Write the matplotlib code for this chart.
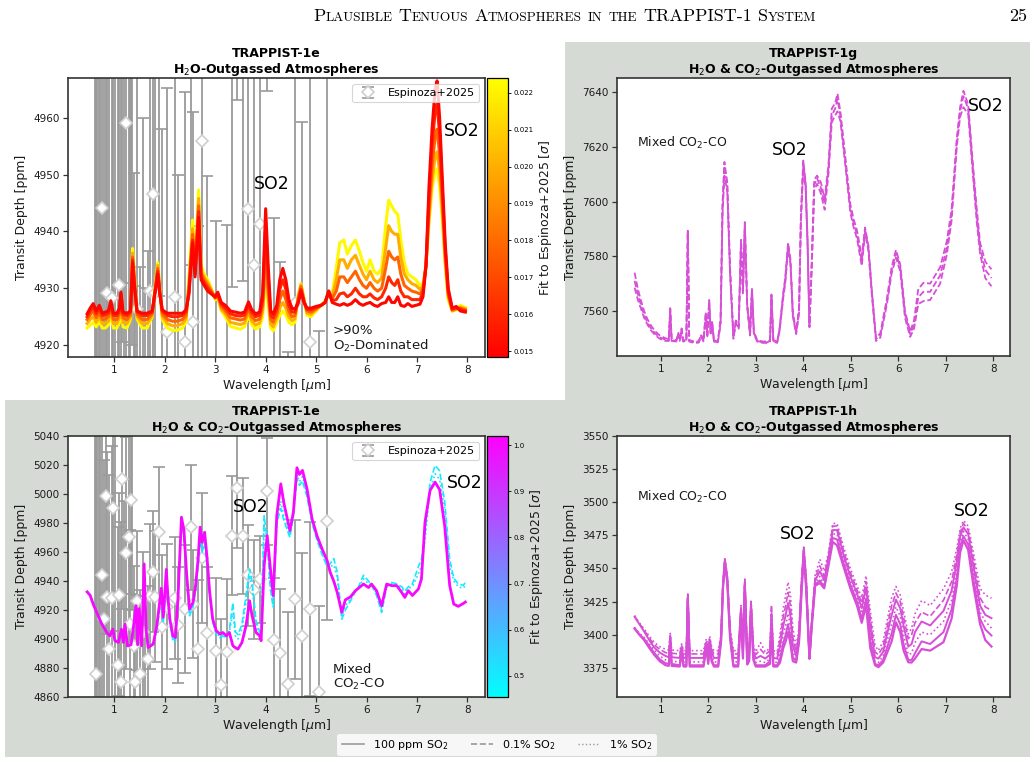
import matplotlib
matplotlib.use("Agg")
import matplotlib.pyplot as plt
import matplotlib.colors as mcolors
from matplotlib.cm import ScalarMappable
from matplotlib.lines import Line2D
from matplotlib.patches import Rectangle
from matplotlib.text import Annotation
from matplotlib.ticker import FormatStrFormatter

# ---------------- Espinoza+2025 observed spectrum (both TRAPPIST-1e panels) ----------------
obs_wl = [0.61, 0.63, 0.66, 0.69, 0.72, 0.75, 0.80, 0.84, 0.86, 0.90,
          0.95, 0.97, 1.02, 1.07, 1.10, 1.13, 1.16, 1.20, 1.24, 1.28,
          1.30, 1.32, 1.35, 1.39, 1.41, 1.45, 1.51, 1.57, 1.61, 1.66,
          1.70, 1.76, 1.80, 1.88, 1.95, 2.05, 2.20, 2.27, 2.40, 2.51,
          2.56, 2.66, 2.74, 2.84, 3.02, 3.12, 3.23, 3.33, 3.43, 3.55,
          3.64, 3.77, 3.88, 4.02, 4.16, 4.28, 4.44, 4.58, 4.73, 4.88,
          5.05, 5.22]
obs_depth = [5080, 4875.7, 4850, 5065, 4835, 4944.2, 4913.7, 4998.3, 4929.1, 4893,
             4928.3, 4990.2, 5070, 4881.9, 4930.5, 4870.4, 5010.5, 4845, 4959, 4970.2,
             4910.3, 4996, 5060, 4895.3, 4870.4, 4926.4, 4875.7, 4905, 4850, 4886.5,
             4929.5, 4946.5, 4929.2, 4973.6, 4908, 4922.3, 4928.4, 4910, 4920.5, 4977.1,
             4924.1, 4893, 4956, 4903.8, 4891.8, 4868.1, 4891.2, 4971.3, 5004.1, 4971.3,
             4943.9, 4934.1, 4941.3, 5001.8, 4899.4, 4890.2, 4868.8, 4927.4, 4902.2, 4920.6,
             4863.5, 4981.7]
obs_err = [230, 170, 200, 220, 215, 130, 110, 95, 100, 120,
           105, 85, 220, 95, 70, 110, 90, 150, 80, 75,
           65, 65, 140, 55, 60, 48, 58, 55, 80, 50,
           50, 42, 45, 45, 50, 43, 42, 40, 44, 43,
           37, 48, 45, 46, 50, 46, 50, 41, 41, 40,
           35, 34, 30, 37, 43, 44.5, 50, 55, 57, 60,
           59, 68.7]

# ---------------- TRAPPIST-1e, H2O-outgassed (O2-dominated) models ----------------
e1_wl = [0.46, 0.52, 0.58, 0.64, 0.70, 0.76, 0.82, 0.88, 0.93, 0.98,
         1.05, 1.10, 1.13, 1.17, 1.25, 1.32, 1.36, 1.40, 1.45, 1.55,
         1.65, 1.75, 1.82, 1.86, 1.90, 1.95, 2.05, 2.15, 2.25, 2.35,
         2.42, 2.48, 2.55, 2.60, 2.67, 2.72, 2.78, 2.85, 2.92, 3.00,
         3.05, 3.12, 3.20, 3.30, 3.40, 3.50, 3.58, 3.66, 3.72, 3.80,
         3.88, 3.94, 4.00, 4.05, 4.10, 4.15, 4.22, 4.28, 4.34, 4.40,
         4.46, 4.52, 4.58, 4.65, 4.70, 4.76, 4.82, 4.90, 5.00, 5.10,
         5.18, 5.25, 5.32, 5.40, 5.47, 5.55, 5.62, 5.70, 5.78, 5.86,
         5.93, 6.00, 6.07, 6.15, 6.22, 6.30, 6.38, 6.44, 6.50, 6.56,
         6.62, 6.68, 6.75, 6.82, 6.90, 6.98, 7.06, 7.12, 7.18, 7.24,
         7.30, 7.36, 7.40, 7.45, 7.50, 7.56, 7.62, 7.70, 7.78, 7.86,
         7.96]
e1_fit = [0.0222, 0.0200, 0.0178, 0.0160, 0.0150]   # yellow ... red
e1_yellow = [4923.0, 4923.5, 4924.0, 4923.2, 4924.2, 4923.0, 4923.0, 4923.5, 4925.5, 4923.0,
             4923.0, 4924.0, 4927.5, 4923.2, 4923.0, 4924.6, 4937.0, 4932.0, 4924.6, 4923.0,
             4923.0, 4925.0, 4931.5, 4934.5, 4930.0, 4924.5, 4923.0, 4922.6, 4922.6, 4923.0,
             4924.0, 4932.0, 4942.0, 4934.0, 4947.3, 4934.0, 4932.5, 4931.5, 4930.0, 4928.0,
             4928.2, 4926.0, 4925.0, 4923.3, 4923.0, 4922.8, 4923.2, 4925.3, 4923.6, 4922.8,
             4923.2, 4925.0, 4932.0, 4927.0, 4923.0, 4922.5, 4924.0, 4925.2, 4926.0, 4925.3,
             4924.0, 4923.6, 4924.0, 4929.0, 4930.8, 4928.2, 4925.2, 4925.0, 4926.0, 4927.0,
             4927.8, 4928.7, 4929.0, 4933.5, 4938.0, 4938.5, 4936.0, 4937.5, 4938.5, 4936.5,
             4934.5, 4933.0, 4935.0, 4933.0, 4932.5, 4933.5, 4941.0, 4945.5, 4944.5, 4943.5,
             4943.0, 4938.5, 4934.5, 4932.5, 4932.0, 4931.5, 4930.5, 4930.8, 4934.0, 4941.5,
             4947.5, 4950.5, 4951.0, 4948.0, 4942.5, 4934.0, 4928.0, 4926.0, 4926.2, 4927.0,
             4926.6]
e1_amber = [4923.8, 4924.5, 4925.0, 4924.0, 4925.0, 4923.8, 4923.8, 4924.2, 4926.2, 4923.8,
            4923.8, 4924.8, 4928.0, 4924.0, 4923.8, 4925.0, 4936.2, 4931.5, 4925.0, 4923.8,
            4923.8, 4925.2, 4931.0, 4934.0, 4929.8, 4925.0, 4923.8, 4923.4, 4923.4, 4923.8,
            4924.6, 4931.0, 4940.5, 4933.5, 4945.8, 4933.0, 4932.0, 4931.0, 4929.8, 4928.2,
            4928.5, 4926.3, 4925.5, 4924.0, 4923.8, 4923.6, 4923.9, 4925.9, 4924.3, 4923.5,
            4923.9, 4926.0, 4934.0, 4928.5, 4923.7, 4923.2, 4924.8, 4926.5, 4927.5, 4926.5,
            4925.0, 4924.3, 4924.6, 4928.8, 4930.6, 4928.0, 4925.6, 4925.4, 4926.2, 4927.0,
            4927.6, 4929.0, 4928.6, 4931.5, 4935.0, 4935.0, 4933.5, 4935.0, 4935.8, 4934.0,
            4932.5, 4931.5, 4933.0, 4931.5, 4931.0, 4931.8, 4937.0, 4941.0, 4940.0, 4939.5,
            4939.5, 4935.5, 4932.5, 4931.5, 4930.8, 4930.5, 4929.8, 4930.3, 4934.0, 4942.5,
            4949.0, 4953.0, 4954.0, 4950.5, 4944.0, 4935.0, 4928.5, 4926.0, 4926.3, 4926.7,
            4926.4]
e1_orange = [4924.5, 4925.3, 4926.0, 4924.8, 4925.8, 4924.5, 4924.6, 4925.0, 4926.8, 4924.5,
             4924.5, 4925.5, 4928.5, 4924.8, 4924.5, 4925.4, 4935.5, 4931.0, 4925.4, 4924.5,
             4924.5, 4925.5, 4930.5, 4933.5, 4929.5, 4925.5, 4924.5, 4924.2, 4924.2, 4924.5,
             4925.2, 4930.0, 4939.5, 4933.0, 4944.5, 4932.5, 4931.5, 4930.5, 4929.5, 4928.3,
             4928.8, 4926.8, 4926.0, 4924.8, 4924.6, 4924.4, 4924.6, 4926.5, 4925.0, 4924.3,
             4924.6, 4927.0, 4937.0, 4930.0, 4924.5, 4924.0, 4925.5, 4928.0, 4929.5, 4928.0,
             4926.0, 4925.0, 4925.2, 4928.3, 4930.3, 4927.8, 4926.0, 4925.8, 4926.4, 4927.0,
             4927.5, 4929.3, 4928.2, 4929.5, 4932.0, 4932.0, 4931.0, 4932.0, 4933.0, 4931.5,
             4930.5, 4930.0, 4931.0, 4930.0, 4929.5, 4930.0, 4933.5, 4936.5, 4935.5, 4935.0,
             4935.5, 4932.5, 4930.5, 4930.0, 4929.5, 4929.3, 4929.0, 4929.8, 4934.0, 4944.0,
             4951.5, 4956.5, 4958.0, 4953.5, 4946.0, 4936.0, 4929.0, 4926.2, 4926.4, 4926.5,
             4926.2]
e1_redorange = [4925.0, 4926.0, 4926.8, 4925.5, 4926.5, 4925.2, 4925.3, 4925.6, 4927.3, 4925.2,
                4925.2, 4926.0, 4929.0, 4925.4, 4925.2, 4925.8, 4935.0, 4930.5, 4925.8, 4925.2,
                4925.2, 4925.8, 4930.2, 4933.0, 4929.2, 4926.0, 4925.2, 4925.0, 4925.0, 4925.2,
                4925.8, 4929.5, 4938.5, 4932.5, 4943.5, 4932.0, 4931.0, 4930.0, 4929.2, 4928.4,
                4929.0, 4927.2, 4926.5, 4925.5, 4925.2, 4925.1, 4925.3, 4927.1, 4925.8, 4925.0,
                4925.3, 4928.0, 4941.0, 4932.0, 4925.2, 4924.8, 4926.3, 4929.8, 4931.5, 4929.8,
                4927.0, 4925.8, 4925.8, 4927.8, 4929.8, 4927.6, 4926.3, 4926.2, 4926.6, 4927.0,
                4927.5, 4929.5, 4927.8, 4928.0, 4929.0, 4929.2, 4928.5, 4929.0, 4930.0, 4929.0,
                4928.5, 4928.5, 4929.0, 4928.3, 4928.0, 4928.5, 4930.0, 4932.0, 4931.0, 4930.5,
                4931.5, 4929.5, 4928.5, 4928.5, 4928.0, 4928.0, 4928.0, 4929.2, 4934.0, 4946.0,
                4955.0, 4961.0, 4962.5, 4957.0, 4948.0, 4937.0, 4929.5, 4926.3, 4926.6, 4926.3,
                4926.0]
e1_red = [4925.5, 4926.5, 4927.3, 4926.0, 4927.0, 4925.6, 4925.8, 4926.0, 4927.8, 4925.6,
          4925.6, 4926.5, 4929.3, 4925.8, 4925.6, 4926.0, 4934.5, 4930.0, 4926.0, 4925.6,
          4925.6, 4926.0, 4930.0, 4932.5, 4929.0, 4926.2, 4925.6, 4925.6, 4925.6, 4925.6,
          4926.2, 4929.0, 4938.0, 4932.0, 4942.5, 4931.5, 4930.5, 4929.5, 4929.0, 4928.5,
          4929.3, 4927.5, 4927.0, 4926.0, 4925.8, 4925.6, 4925.8, 4927.6, 4926.3, 4925.5,
          4925.8, 4929.0, 4944.0, 4934.0, 4926.0, 4925.5, 4927.0, 4931.5, 4933.5, 4931.5,
          4928.0, 4926.5, 4926.3, 4927.5, 4929.5, 4927.5, 4926.5, 4926.5, 4926.8, 4927.0,
          4927.5, 4929.5, 4927.5, 4927.2, 4927.0, 4927.3, 4927.0, 4927.3, 4928.0, 4927.3,
          4927.0, 4927.3, 4927.5, 4927.0, 4926.8, 4927.3, 4927.5, 4928.5, 4927.5, 4927.5,
          4928.5, 4927.0, 4926.8, 4927.3, 4926.8, 4927.0, 4927.2, 4928.5, 4934.0, 4948.0,
          4958.0, 4965.0, 4966.5, 4960.0, 4950.0, 4938.0, 4930.0, 4926.5, 4926.8, 4926.0,
          4925.8]

# ---------------- TRAPPIST-1g, H2O & CO2-outgassed models ----------------
g_wl = [0.45, 0.52, 0.58, 0.65, 0.72, 0.80, 0.88, 0.98, 1.10, 1.17,
        1.20, 1.23, 1.33, 1.37, 1.40, 1.44, 1.47, 1.54, 1.57, 1.60,
        1.70, 1.80, 1.85, 1.90, 1.95, 1.98, 2.02, 2.05, 2.08, 2.12,
        2.20, 2.26, 2.30, 2.34, 2.40, 2.46, 2.53, 2.58, 2.64, 2.69,
        2.73, 2.77, 2.82, 2.88, 2.92, 2.96, 3.03, 3.15, 3.24, 3.30,
        3.33, 3.37, 3.45, 3.50, 3.58, 3.62, 3.68, 3.73, 3.78, 3.85,
        3.91, 3.95, 4.00, 4.05, 4.09, 4.13, 4.18, 4.23, 4.29, 4.37,
        4.45, 4.53, 4.60, 4.67, 4.72, 4.78, 4.88, 4.99, 5.06, 5.13,
        5.23, 5.30, 5.37, 5.44, 5.53, 5.62, 5.76, 5.86, 5.95, 6.04,
        6.14, 6.25, 6.33, 6.42, 6.53, 6.67, 6.88, 7.02, 7.12, 7.23,
        7.30, 7.37, 7.47, 7.58, 7.65, 7.72, 7.83, 7.96]
g_hi = [7574.0, 7568.0, 7564.0, 7560.0, 7557.0, 7554.5, 7552.6, 7551.0, 7550.0, 7549.6,
        7561.0, 7549.6, 7549.3, 7552.0, 7549.4, 7553.6, 7549.3, 7549.3, 7589.5, 7549.3,
        7548.8, 7548.9, 7551.3, 7549.3, 7559.5, 7551.3, 7564.0, 7552.3, 7556.3, 7549.3,
        7548.8, 7557.0, 7599.0, 7614.5, 7607.0, 7575.5, 7550.8, 7556.5, 7554.5, 7586.0,
        7568.0, 7592.5, 7562.5, 7552.0, 7568.5, 7552.5, 7549.3, 7548.8, 7548.8, 7549.3,
        7566.0, 7549.3, 7548.8, 7553.5, 7567.0, 7572.0, 7585.0, 7579.0, 7559.5, 7552.5,
        7561.0, 7595.0, 7615.0, 7607.0, 7586.0, 7555.0, 7579.0, 7608.0, 7609.5, 7607.0,
        7601.0, 7613.5, 7634.0, 7636.0, 7639.5, 7633.0, 7617.0, 7599.0, 7593.5, 7589.5,
        7580.0, 7590.5, 7584.0, 7568.0, 7550.3, 7551.8, 7564.5, 7576.0, 7582.3, 7577.0,
        7560.0, 7552.5, 7556.5, 7568.0, 7570.3, 7570.0, 7576.0, 7585.5, 7597.0, 7623.0,
        7634.5, 7640.5, 7635.5, 7611.5, 7597.5, 7585.0, 7578.0, 7575.2]
g_mid = [7571.0, 7566.0, 7562.4, 7558.5, 7555.8, 7553.5, 7551.8, 7550.3, 7549.5, 7549.3,
         7560.5, 7549.3, 7549.0, 7551.5, 7549.2, 7553.3, 7549.0, 7549.0, 7589.3, 7549.0,
         7548.5, 7548.6, 7551.0, 7549.0, 7559.0, 7551.0, 7563.5, 7552.0, 7556.0, 7549.0,
         7548.5, 7556.0, 7597.6, 7613.0, 7606.0, 7574.5, 7550.3, 7556.0, 7554.0, 7585.5,
         7567.0, 7592.0, 7562.0, 7551.5, 7568.0, 7552.0, 7549.0, 7548.5, 7548.5, 7549.0,
         7565.5, 7549.0, 7548.5, 7553.0, 7566.0, 7571.0, 7584.0, 7578.0, 7558.8, 7552.0,
         7560.0, 7594.0, 7614.3, 7606.0, 7585.0, 7554.5, 7578.0, 7606.0, 7608.5, 7605.0,
         7599.4, 7612.0, 7631.5, 7634.0, 7637.5, 7631.5, 7615.8, 7597.6, 7592.0, 7588.0,
         7578.2, 7589.7, 7583.0, 7567.3, 7549.7, 7551.0, 7563.6, 7575.0, 7581.2, 7576.0,
         7558.8, 7551.5, 7555.0, 7565.0, 7567.0, 7567.0, 7573.0, 7583.0, 7595.0, 7621.8,
         7633.0, 7638.5, 7634.0, 7609.7, 7595.0, 7583.0, 7575.0, 7572.0]
g_lo = [7568.5, 7564.0, 7561.0, 7557.5, 7555.0, 7552.8, 7551.2, 7549.8, 7549.0, 7549.0,
        7560.0, 7549.0, 7548.8, 7551.0, 7549.0, 7553.0, 7548.8, 7548.8, 7589.0, 7548.8,
        7548.3, 7548.4, 7550.7, 7548.8, 7558.5, 7550.7, 7563.0, 7551.7, 7555.7, 7548.8,
        7548.3, 7555.0, 7595.0, 7609.5, 7604.0, 7573.0, 7549.8, 7555.5, 7553.5, 7584.0,
        7566.0, 7590.5, 7561.5, 7551.0, 7567.0, 7551.5, 7548.8, 7548.3, 7548.3, 7548.8,
        7565.0, 7548.8, 7548.3, 7552.5, 7565.0, 7570.0, 7582.5, 7577.0, 7558.0, 7551.5,
        7559.0, 7592.5, 7612.5, 7604.5, 7584.0, 7554.0, 7577.0, 7604.0, 7606.5, 7603.0,
        7597.0, 7610.0, 7629.0, 7631.5, 7633.0, 7629.5, 7614.0, 7596.0, 7590.5, 7586.5,
        7576.5, 7588.5, 7582.0, 7566.5, 7549.0, 7550.2, 7562.5, 7573.8, 7579.5, 7574.5,
        7557.5, 7550.5, 7553.5, 7562.5, 7563.6, 7564.0, 7570.0, 7580.5, 7593.0, 7620.0,
        7631.0, 7634.5, 7632.0, 7607.5, 7592.5, 7581.0, 7572.0, 7569.0]

# ---------------- TRAPPIST-1e, H2O & CO2-outgassed models ----------------
e2_wl = [0.46, 0.52, 0.58, 0.65, 0.75, 0.85, 0.91, 0.97, 1.01, 1.08,
         1.14, 1.18, 1.21, 1.26, 1.33, 1.38, 1.43, 1.46, 1.49, 1.54,
         1.59, 1.63, 1.67, 1.77, 1.84, 1.89, 1.93, 1.97, 2.03, 2.06,
         2.10, 2.16, 2.21, 2.26, 2.33, 2.38, 2.43, 2.49, 2.56, 2.61,
         2.66, 2.70, 2.74, 2.79, 2.84, 2.89, 2.95, 3.02, 3.09, 3.15,
         3.22, 3.28, 3.35, 3.40, 3.45, 3.53, 3.61, 3.68, 3.73, 3.81,
         3.88, 3.91, 3.97, 4.03, 4.09, 4.15, 4.22, 4.30, 4.36, 4.48,
         4.55, 4.62, 4.67, 4.73, 4.82, 4.92, 5.02, 5.12, 5.22, 5.28,
         5.35, 5.42, 5.51, 5.58, 5.68, 5.78, 5.84, 5.94, 6.04, 6.10,
         6.20, 6.30, 6.40, 6.50, 6.60, 6.70, 6.76, 6.83, 6.91, 7.03,
         7.09, 7.16, 7.26, 7.36, 7.45, 7.55, 7.65, 7.73, 7.82, 7.92,
         7.96]
e2_fit = [0.50, 0.53, 1.0]   # cyan dashed, cyan dotted, magenta solid
e2_cyan1 = [4933, 4930.5, 4924.5, 4918.5, 4911, 4905, 4903, 4905, 4899.5, 4898.5,
            4905, 4898, 4907, 4896, 4896.5, 4906, 4918, 4897, 4915, 4896,
            4945, 4903, 4895, 4897, 4906, 4918, 4928, 4912, 4940, 4925,
            4911, 4899, 4898, 4925, 4980, 4970, 4942, 4916, 4922, 4934,
            4950, 4968, 4960, 4966, 4950, 4930, 4912, 4903, 4901, 4902,
            4901, 4906, 4925, 4905, 4903, 4910, 4930, 4948.3, 4940, 4912,
            4905, 4906, 4985, 4968, 4935, 4922, 4980, 4990, 4982, 4970,
            4985, 5010.5, 5006, 5009, 4998, 4980, 4968, 4958, 4950, 4952,
            4955.5, 4946, 4913.7, 4920, 4926, 4933, 4936, 4944, 4940, 4937,
            4930, 4918.3, 4936, 4939, 4938, 4936, 4933, 4936, 4938, 4950,
            4955, 4972, 5008, 5019.7, 5016, 4995, 4955, 4942, 4938, 4937,
            4939]
e2_cyan2 = [4932.8, 4930.2, 4924.2, 4918.4, 4910.6, 4904.8, 4902.6, 4905.5, 4899.2, 4898,
            4905.5, 4897.8, 4908, 4895.6, 4896.2, 4907, 4919, 4896.5, 4917, 4895.6,
            4947, 4904, 4894.5, 4896.8, 4907, 4920, 4930, 4913, 4943, 4927,
            4912, 4900, 4899, 4926, 4981, 4972, 4943, 4918, 4923, 4935,
            4952, 4972, 4962, 4969, 4952, 4931, 4912.5, 4904, 4902, 4903,
            4901.5, 4905, 4918, 4902, 4900, 4907, 4925, 4944, 4936, 4910,
            4904, 4903, 4978, 4970, 4940, 4925, 4982, 4995, 4985, 4972,
            4986, 5013, 5008.5, 5012, 5000, 4981, 4969, 4960, 4952, 4950,
            4951, 4942, 4916, 4923, 4927.5, 4933, 4935.5, 4941.5, 4938, 4937.5,
            4931.5, 4920.5, 4937, 4938, 4937.5, 4934.5, 4931, 4935, 4936, 4945,
            4950, 4968, 5003, 5014, 5010, 4990, 4950, 4940, 4936, 4935,
            4937]
e2_magenta = [4932.5, 4930, 4924, 4918.3, 4910.3, 4904.5, 4902.2, 4906.8, 4898.8, 4897.6,
              4906.8, 4897.6, 4910.3, 4895.3, 4896, 4909, 4923, 4896, 4921, 4895.3,
              4951.8, 4906, 4894.1, 4896.5, 4909, 4923, 4935, 4915, 4948, 4930,
              4913.7, 4902.2, 4901, 4927.6, 4984, 4975, 4946, 4920.6, 4925.3, 4936.8,
              4955, 4977.1, 4966.7, 4973.6, 4955, 4932.2, 4913.7, 4905.7, 4903.5, 4904.5,
              4902.2, 4904.5, 4895.3, 4894, 4893, 4897.6, 4909, 4926.4, 4916, 4904.5,
              4902.2, 4898.8, 4950.6, 4971.3, 4950, 4929.9, 4985, 5007, 4994, 4974.8,
              4987.5, 5018.1, 5013.5, 5016.3, 5003.6, 4982.9, 4971, 4962.1, 4954, 4946,
              4940, 4932, 4918.3, 4927, 4929, 4933.3, 4935, 4937.9, 4935.5, 4937.9,
              4933.3, 4922.9, 4937.9, 4936.8, 4936.8, 4932, 4928.7, 4933.3, 4930, 4934.5,
              4941.4, 4980.6, 5002.4, 5008.2, 5003, 4978.2, 4936.8, 4924.1, 4922.5, 4924.5,
              4925.5]

# ---------------- TRAPPIST-1h, H2O & CO2-outgassed models ----------------
h_wl = [0.45, 0.55, 0.65, 0.75, 0.86, 0.98, 1.10, 1.17, 1.20, 1.23,
        1.40, 1.44, 1.48, 1.54, 1.57, 1.61, 1.90, 1.96, 2.00, 2.03,
        2.07, 2.12, 2.21, 2.27, 2.31, 2.35, 2.40, 2.46, 2.53, 2.63,
        2.69, 2.73, 2.77, 2.82, 2.86, 2.90, 2.95, 3.00, 3.10, 3.20,
        3.30, 3.33, 3.37, 3.45, 3.51, 3.58, 3.63, 3.68, 3.73, 3.78,
        3.85, 3.91, 3.96, 4.01, 4.06, 4.13, 4.18, 4.25, 4.35, 4.44,
        4.53, 4.62, 4.71, 4.85, 4.99, 5.13, 5.23, 5.32, 5.41, 5.51,
        5.58, 5.68, 5.76, 5.86, 5.95, 6.04, 6.11, 6.21, 6.28, 6.35,
        6.49, 6.67, 6.95, 7.12, 7.23, 7.30, 7.37, 7.47, 7.58, 7.72,
        7.83, 7.96]
h_1 = [3414.5, 3409, 3404.4, 3399.5, 3394.3, 3391, 3389, 3388.5, 3401, 3388.5,
       3388, 3393, 3388, 3388, 3431.5, 3388, 3388, 3397, 3389, 3399,
       3391, 3388, 3388, 3400, 3440, 3458.5, 3445, 3404.4, 3388, 3388,
       3422, 3392, 3442, 3388, 3390, 3426, 3392, 3387, 3394, 3387,
       3390, 3422.5, 3388, 3387, 3400, 3420, 3430, 3439.7, 3430, 3405,
       3391, 3405, 3440, 3467.4, 3445, 3382, 3412, 3445, 3457, 3448,
       3462, 3484, 3484, 3466, 3450, 3437, 3428, 3444.5, 3418, 3392,
       3388, 3395, 3410, 3428, 3436.5, 3430, 3418, 3400.6, 3405, 3415.7,
       3425.8, 3422, 3434.6, 3447.2, 3465, 3480, 3486.3, 3482, 3462, 3435,
       3430, 3427.6]
h_2 = [3414, 3408.5, 3403.5, 3398, 3392.5, 3389, 3386.5, 3386, 3400, 3386,
       3385.5, 3392, 3385.5, 3385.5, 3430.5, 3385.5, 3385.5, 3395.5, 3387, 3397.5,
       3389, 3385.5, 3385.5, 3399, 3439, 3457.5, 3444, 3403, 3385.5, 3385.5,
       3421, 3390, 3441, 3386, 3388, 3425, 3390, 3385, 3389, 3385,
       3388, 3420, 3385.5, 3385, 3396, 3414, 3422, 3432, 3422, 3398,
       3387, 3402, 3438, 3466, 3443, 3382, 3411, 3443, 3452, 3444,
       3460, 3482, 3482, 3463, 3447, 3434, 3424, 3440, 3412, 3387,
       3385, 3391, 3405, 3422, 3431.5, 3425, 3413, 3397, 3400, 3409,
       3417, 3414, 3426, 3440, 3460, 3477, 3484, 3479, 3457, 3428,
       3421, 3418.3]
h_3 = [3413.5, 3408, 3402.5, 3396.5, 3390.5, 3386.5, 3384, 3383, 3399, 3383,
       3382.5, 3391, 3382.5, 3382.5, 3429.5, 3382.5, 3382.5, 3394, 3384.5, 3396,
       3386.5, 3382.5, 3382.5, 3398, 3438, 3456.5, 3443, 3401.5, 3382.5, 3382.5,
       3420, 3388, 3440, 3384, 3386, 3424, 3387.5, 3382, 3384, 3382,
       3385, 3416, 3382.5, 3382, 3391, 3407, 3415, 3424, 3414, 3392,
       3384, 3400, 3436, 3464.5, 3441, 3382, 3410, 3441, 3448, 3441,
       3458, 3479, 3479, 3460, 3444, 3431, 3420, 3436, 3406, 3383,
       3382, 3387, 3400, 3415, 3426.5, 3420, 3407, 3391, 3393, 3402,
       3410, 3407, 3418, 3433, 3455, 3474, 3481, 3476, 3452, 3422,
       3415, 3412.5]
h_4 = [3405.5, 3401, 3398, 3393.5, 3388.5, 3384, 3381, 3380, 3397, 3380,
       3379.5, 3389.5, 3379.5, 3379.5, 3428.5, 3379.5, 3379.5, 3392.5, 3382, 3394.5,
       3384, 3379.5, 3379.5, 3397, 3437, 3455.5, 3442, 3400, 3379.5, 3379.5,
       3419, 3386, 3439, 3381, 3383, 3422, 3385, 3379, 3380, 3379,
       3382, 3412, 3379.5, 3379, 3386, 3400, 3407, 3416, 3406, 3387,
       3381.5, 3398, 3434, 3463, 3439, 3382, 3409, 3439, 3444, 3438,
       3456, 3476, 3476, 3457, 3441, 3428, 3416, 3432, 3400, 3380,
       3379, 3384, 3395, 3408, 3421, 3414, 3400, 3385, 3386, 3394,
       3402, 3400, 3410, 3426, 3449, 3470, 3478, 3472, 3447, 3417,
       3410, 3405]
h_5 = [3405, 3400.5, 3397, 3392, 3386.5, 3381.5, 3378.5, 3378, 3395.5, 3378,
       3377, 3388, 3377, 3377, 3427.5, 3377, 3377, 3391, 3379.5, 3393,
       3381.5, 3377, 3377, 3396, 3436, 3454.5, 3441, 3398.5, 3377, 3377,
       3418, 3384, 3438, 3379, 3381, 3420, 3382.5, 3377, 3377, 3377,
       3380, 3408, 3377, 3377, 3382, 3394, 3400, 3408, 3398, 3383,
       3380, 3396, 3432, 3461.5, 3437, 3382, 3408, 3438, 3441, 3436,
       3454, 3473, 3472, 3454, 3438, 3425, 3412, 3427, 3395, 3378,
       3377, 3381, 3390, 3401, 3415, 3408, 3393, 3381, 3381, 3386,
       3395, 3393, 3402, 3419, 3443, 3466, 3474.5, 3468, 3442, 3412,
       3404, 3399.4]
h_6 = [3404.5, 3400, 3396, 3390.5, 3385, 3380, 3377, 3376.5, 3394, 3376.5,
       3376, 3387, 3376, 3376, 3426.5, 3376, 3376, 3390, 3378, 3392,
       3380, 3376, 3376, 3395, 3435, 3453.5, 3440, 3397, 3376, 3376,
       3417, 3382, 3437, 3377.5, 3380, 3418, 3381, 3376, 3376, 3376,
       3378, 3405, 3376, 3376, 3379, 3390, 3395, 3402, 3393, 3380,
       3379, 3394, 3430, 3460, 3435, 3382, 3407, 3437, 3439, 3435,
       3452, 3470, 3467.5, 3451, 3435, 3422, 3409, 3422, 3390, 3377,
       3375.5, 3379, 3386, 3395, 3409.4, 3402, 3388, 3379.2, 3379, 3382,
       3389.2, 3388, 3394.4, 3412, 3437, 3462, 3471.2, 3464, 3437, 3408,
       3396, 3391.1]

legend_labels = ['100 ppm SO$_2$', '0.1% SO$_2$', '1% SO$_2$']

# ---------------- figure ----------------
W, H = 1035, 764
fig = plt.figure(figsize=(W / 100, H / 100), dpi=100)
fig.patch.set_facecolor('white')
BG = '#d5dad5'
for (x0, y0, x1, y1) in [(565, 42, 1030, 400), (5, 400, 1030, 757)]:
    fig.add_artist(Rectangle((x0 / W, 1 - y1 / H), (x1 - x0) / W, (y1 - y0) / H,
                             transform=fig.transFigure, facecolor=BG,
                             edgecolor='none', zorder=-5))


def rect(l, t, r, b):
    return [l / W, 1 - b / H, (r - l) / W, (b - t) / H]


ax1 = fig.add_axes(rect(68, 78, 485, 357))
cax1 = fig.add_axes(rect(487, 78, 508, 357))
ax2 = fig.add_axes(rect(617, 78, 1010, 356))
ax3 = fig.add_axes(rect(68, 436, 485, 697))
cax3 = fig.add_axes(rect(487, 436, 508, 697))
ax4 = fig.add_axes(rect(617, 436, 1010, 697))

TXT = '#1a1a1a'


def style(ax, title, ylim, yticks):
    ax.set_facecolor('white')
    for s in ax.spines.values():
        s.set_linewidth(1.2)
        s.set_color('#333333')
    ax.tick_params(labelsize=7.5, length=3.5, width=0.9, colors='#333333',
                   labelcolor=TXT, pad=2.5)
    ax.set_xlim(0.08, 8.35)
    ax.set_xticks(range(1, 9))
    ax.set_ylim(*ylim)
    ax.set_yticks(yticks)
    ax.set_xlabel('Wavelength [$\\mu$m]', fontsize=9, labelpad=1, color=TXT)
    ax.set_ylabel('Transit Depth [ppm]', fontsize=9, labelpad=4, color=TXT)
    ax.set_title(title, fontsize=9, fontweight='bold', pad=3, linespacing=1.1,
                 color='black')


def obs(ax):
    ax.errorbar(obs_wl, obs_depth, yerr=obs_err, fmt='D', ms=6.5, mfc='white',
                mec='#cfcfcf', mew=1.2, ecolor='#9a9a9a', elinewidth=1.3,
                capsize=4, capthick=1.3, label='Espinoza+2025', zorder=1)
    leg = ax.legend(loc='upper right', fontsize=8, borderpad=0.4,
                    handletextpad=0.8, framealpha=0.8)
    leg.get_frame().set_linewidth(0.8)


SO2 = dict(fontsize=12.5, va='center', ha='left', color='black')

# ---- panel 1: TRAPPIST-1e, O2-dominated ----
style(ax1, 'TRAPPIST-1e\nH$_2$O-Outgassed Atmospheres', (4917.9, 4967.0),
      [4920, 4930, 4940, 4950, 4960])
obs(ax1)
norm1 = mcolors.Normalize(vmin=0.01484, vmax=0.0224)
cmap1 = plt.get_cmap('autumn')
for fit, spec in zip(e1_fit, [e1_yellow, e1_amber, e1_orange, e1_redorange, e1_red]):
    ax1.plot(e1_wl, spec, color=cmap1(norm1(fit)), lw=2.2, zorder=2)
ax1.text(3.77, 4948.3, 'SO2', **SO2)
ax1.text(7.54, 4957.7, 'SO2', **SO2)
ax1.text(5.33, 4918.5, '>90%\nO$_2$-Dominated', fontsize=9.5, va='bottom',
         ha='left', color=TXT, linespacing=1.05)
cb1 = fig.colorbar(ScalarMappable(norm=norm1, cmap=cmap1), cax=cax1)
cb1.set_ticks([0.015, 0.016, 0.017, 0.018, 0.019, 0.020, 0.021, 0.022])
cb1.ax.yaxis.set_major_formatter(FormatStrFormatter('%.3f'))
cb1.ax.tick_params(labelsize=5, length=2, width=0.6, pad=2)
cb1.outline.set_linewidth(0.9)
cb1.set_label('Fit to Espinoza+2025 [$\\sigma$]', fontsize=9, labelpad=2, color=TXT)

# ---- panel 2: TRAPPIST-1g ----
style(ax2, 'TRAPPIST-1g\nH$_2$O & CO$_2$-Outgassed Atmospheres', (7543.5, 7645.2),
      [7560, 7580, 7600, 7620, 7640])
PINK = '#d64fd6'
for spec in [g_lo, g_mid, g_hi]:
    ax2.plot(g_wl, spec, color=PINK, lw=1.3, ls=(0, (3.5, 1.5)))
ax2.text(0.51, 7621.5, 'Mixed CO$_2$-CO', fontsize=9, va='center', color=TXT)
ax2.text(3.33, 7619.0, 'SO2', **SO2)
ax2.text(7.47, 7634.8, 'SO2', **SO2)

# ---- panel 3: TRAPPIST-1e, mixed CO2-CO ----
style(ax3, 'TRAPPIST-1e\nH$_2$O & CO$_2$-Outgassed Atmospheres', (4860, 5040),
      list(range(4860, 5041, 20)))
obs(ax3)
norm3 = mcolors.Normalize(vmin=0.4545, vmax=1.0195)
cmap3 = plt.get_cmap('cool')
ax3.plot(e2_wl, e2_cyan1, color=cmap3(norm3(e2_fit[0])), lw=1.2, ls='--', zorder=2)
ax3.plot(e2_wl, e2_cyan2, color=cmap3(norm3(e2_fit[1])), lw=1.2, ls=':', zorder=2)
ax3.plot(e2_wl, e2_magenta, color=cmap3(norm3(e2_fit[2])), lw=2.0, ls='-', zorder=3)
ax3.text(3.35, 4990.9, 'SO2', **SO2)
ax3.text(7.59, 5007.7, 'SO2', **SO2)
ax3.text(5.34, 4863.5, 'Mixed\nCO$_2$-CO', fontsize=9.5, va='bottom', ha='left',
         color=TXT, linespacing=1.05)
cb3 = fig.colorbar(ScalarMappable(norm=norm3, cmap=cmap3), cax=cax3)
cb3.set_ticks([0.5, 0.6, 0.7, 0.8, 0.9, 1.0])
cb3.ax.yaxis.set_major_formatter(FormatStrFormatter('%.1f'))
cb3.ax.tick_params(labelsize=5, length=2, width=0.6, pad=2)
cb3.outline.set_linewidth(0.9)
cb3.set_label('Fit to Espinoza+2025 [$\\sigma$]', fontsize=9, labelpad=2, color=TXT)

# ---- panel 4: TRAPPIST-1h ----
style(ax4, 'TRAPPIST-1h\nH$_2$O & CO$_2$-Outgassed Atmospheres', (3353, 3550),
      list(range(3375, 3551, 25)))
styles_h = [(':', 1.2), ('--', 1.2), ('-', 1.4), (':', 1.2), ('-', 1.4), ('-', 1.6)]
for spec, (ls, lw) in zip([h_1, h_2, h_3, h_4, h_5, h_6], styles_h):
    ax4.plot(h_wl, spec, color=PINK, lw=lw, ls=ls)
ax4.text(0.51, 3503.7, 'Mixed CO$_2$-CO', fontsize=9, va='center', color=TXT)
ax4.text(3.50, 3475.7, 'SO2', **SO2)
ax4.text(7.16, 3493.6, 'SO2', **SO2)

# ---- shared line-style legend ----
handles = [Line2D([], [], color='#9a9a9a', lw=1.2, ls='-'),
           Line2D([], [], color='#9a9a9a', lw=1.2, ls='--'),
           Line2D([], [], color='#9a9a9a', lw=1.0, ls=':')]
fleg = fig.legend(handles, legend_labels, loc='center',
                  bbox_to_anchor=(497 / W, 1 - 745 / H), ncol=3, fontsize=8,
                  frameon=True, framealpha=0.8, borderpad=0.4, columnspacing=2.0)
fleg.get_frame().set_linewidth(0)

# ---- running head (small caps) ----
head = [('P', 13.0, 0), ('LAUSIBLE', 9.6, 0), ('T', 13.0, 4.4), ('ENUOUS', 9.6, 0),
        ('A', 13.0, 4.4), ('TMOSPHERES', 9.6, 0), ('IN', 9.6, 4.4), ('THE', 9.6, 4.4),
        ('TRAPPIST-1', 13.0, 4.4), ('S', 13.0, 4.4), ('YSTEM', 9.6, 0)]
hy = 1 - 21 / H
prev = None
for s, size, gap in head:
    if prev is None:
        prev = fig.text(313 / W, hy, s, fontsize=size, family='cmr10',
                        va='baseline', ha='left')
    else:
        a = Annotation(s, xy=(1, hy), xycoords=(prev, 'figure fraction'),
                       xytext=(gap, 0), textcoords='offset points',
                       fontsize=size, family='cmr10', va='baseline', ha='left')
        fig.add_artist(a)
        prev = a
fig.text(1027 / W, hy, '25', fontsize=13.0, family='cmr10', va='baseline', ha='right')

fig.savefig('out.png', dpi=100, facecolor='white')
